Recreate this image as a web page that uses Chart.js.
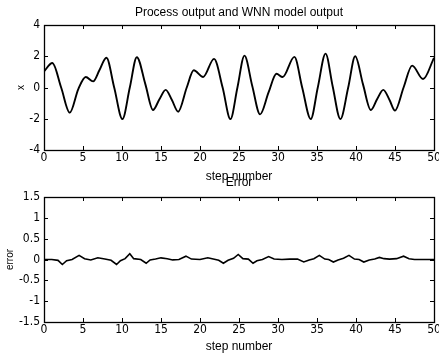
<!DOCTYPE html>
<html><head><meta charset="utf-8">
<script src="https://cdn.jsdelivr.net/npm/chart.js@4.4.0/dist/chart.umd.min.js"></script>
<style>
html,body{margin:0;padding:0;background:#fff;}
#wrap{position:relative;width:439px;height:355px;overflow:hidden;background:#fff;}
#c1{position:absolute;left:0;top:0;}
#c2{position:absolute;left:0;top:175px;}
</style></head><body>
<div id="wrap"><canvas id="c1" width="439" height="185" style="width:439px;height:185px"></canvas><canvas id="c2" width="439" height="180" style="width:439px;height:180px"></canvas></div>
<script>
// ---- data ----
const stepX = [0,1.07,2.2,3.3,4.4,5.35,6.3,7.1,8.0,9.0,10.05,11.0,11.9,13.0,13.97,14.8,15.6,16.4,17.2,18.3,19.2,20.4,21.8,22.9,23.9,24.8,25.7,26.7,27.7,28.8,29.8,30.6,32.1,33.1,34.2,35.1,36.1,37.0,38.0,39.0,39.9,40.9,41.9,42.7,43.5,44.3,45.0,46.1,47.2,48.6,50];
const processY = [1.03,1.57,0,-1.61,-0.1,0.67,0.39,1.1,1.9,0,-2.02,0,1.94,0.2,-1.44,-0.75,-0.15,-0.8,-1.55,0,1.1,0.67,1.83,0,-2.02,0,2.04,0.1,-1.72,-0.3,0.88,0.67,1.96,0,-2.02,0,2.17,0.1,-2.02,0,2.0,0.2,-1.44,-0.75,-0.15,-0.8,-1.48,0,1.4,0.54,1.9];
const errX = [0,1,1.8,2.35,2.9,3.6,4.5,5.2,6,6.9,7.8,8.6,9.3,9.8,10.4,11,11.5,12.4,13.1,13.6,14.3,15,15.8,16.5,17.3,18.2,18.9,20,21,21.7,22.4,23,23.6,24.3,24.9,25.5,26.2,26.8,27.3,28,28.8,29.5,30.5,31.5,32.5,33.3,34,34.6,35.3,36,36.5,37.1,37.7,38.4,39.1,39.8,40.4,41,41.7,42.4,43,43.6,44.3,45.2,46.1,46.8,47.5,50];
const errY = [0,0,-0.02,-0.12,-0.03,0,0.1,0.02,-0.01,0.04,0.01,-0.02,-0.12,-0.03,0.02,0.14,0.02,0,-0.09,-0.01,0.01,0.04,0.02,-0.01,0,0.08,0.01,0,0.04,0.01,-0.02,-0.09,-0.02,0.03,0.12,0.02,0.01,-0.09,-0.03,0,0.07,0.01,0,0.01,0.01,-0.06,-0.01,0.02,0.1,0.01,0,-0.06,-0.01,0.03,0.1,0.01,0,-0.06,-0.01,0.01,0.05,0.02,0.01,0.02,0.08,0.02,0,0];
const xTickVals = [0,5,10,15,20,25,30,35,40,45,50];
const topYTickVals = [-4,-2,0,2,4];
const errYTickVals = [-1.5,-1,-0.5,0,0.5,1,1.5];
const topTitle = 'Process output and WNN model output';
const errTitle = 'Error';
const xLabel = 'step number';
const topYLabel = 'x';
const errYLabel = 'error';

const tickFont = {family:'"Liberation Sans Narrow","DejaVu Sans Condensed","Liberation Sans",Arial,sans-serif', size:12};
const textFont = {family:'"Liberation Sans",Arial,sans-serif', size:12, weight:'normal'};

const boxTicks = {
  id:'boxTicks',
  afterDatasetsDraw(chart){
    const {ctx, chartArea:a, scales} = chart;
    const x = scales.x, y = scales.y;
    ctx.save();
    ctx.strokeStyle = '#000';
    ctx.lineWidth = 1;
    const L = 4;
    ctx.beginPath();
    x.ticks.forEach(t=>{
      const px = Math.round(x.getPixelForValue(t.value)) + 0.5;
      ctx.moveTo(px, a.bottom); ctx.lineTo(px, a.bottom - L);
      ctx.moveTo(px, a.top); ctx.lineTo(px, a.top + L);
    });
    y.ticks.forEach(t=>{
      const py = Math.round(y.getPixelForValue(t.value)) + 0.5;
      ctx.moveTo(a.left, py); ctx.lineTo(a.left + L, py);
      ctx.moveTo(a.right, py); ctx.lineTo(a.right - L, py);
    });
    ctx.stroke();
    ctx.lineWidth = 1.3;
    ctx.strokeRect(Math.round(a.left)+0.5, Math.round(a.top)+0.5, Math.round(a.right-a.left), Math.round(a.bottom-a.top));
    ctx.restore();
  }
};

function makeChart(id, xs, ys, yTicks, yMin, yMax, title, titlePad, yLabel, yLabelPad, xAxisH, xTitlePadB, lineW, smooth){
  const pts = xs.map((v,i)=>({x:v, y:ys[i]}));
  return new Chart(document.getElementById(id), {
    type:'line',
    data:{datasets:[{data:pts, borderColor:'#000', borderWidth:lineW, pointRadius:0, fill:false,
      cubicInterpolationMode: smooth ? 'monotone' : 'default', tension:0}]},
    options:{
      responsive:false, animation:false, devicePixelRatio:1,
      layout:{padding:{left:0,right:5,top:0,bottom:0}},
      plugins:{
        legend:{display:false}, tooltip:{enabled:false},
        title:{display:true, text:title, color:'#000', font:textFont, fullSize:false, padding:titlePad}
      },
      scales:{
        x:{type:'linear', min:0, max:50,
          afterBuildTicks:s=>{s.ticks = xTickVals.map(v=>({value:v}));},
          afterFit:s=>{s.height = xAxisH; s.paddingLeft = 0; s.paddingRight = 0;},
          grid:{display:false, drawTicks:false},
          border:{display:false},
          ticks:{color:'#000', font:tickFont, padding:1, maxRotation:0, autoSkip:false, callback:v=>String(v)},
          title:{display:true, text:xLabel, color:'#000', font:textFont, padding:{top:0,bottom:xTitlePadB}}
        },
        y:{type:'linear', min:yMin, max:yMax,
          afterBuildTicks:s=>{s.ticks = yTicks.map(v=>({value:v}));},
          afterFit:s=>{s.width = 44; s.paddingTop = 0; s.paddingBottom = 0;},
          grid:{display:false, drawTicks:false},
          border:{display:false},
          ticks:{color:'#000', font:tickFont, padding:4, autoSkip:false, callback:v=>String(v)},
          title:{display:true, text:yLabel, color:'#000', font:{family:textFont.family, size:10, weight:'normal'}, padding:{top:yLabelPad,bottom:0}}
        }
      }
    },
    plugins:[boxTicks]
  });
}

makeChart('c1', stepX, processY, topYTickVals, -4, 4, topTitle, {top:5,bottom:5.6}, topYLabel, 15, 35, 1.3, 1.9, true);
makeChart('c2', errX, errY, errYTickVals, -1.5, 1.5, errTitle, {top:0.8,bottom:6.8}, errYLabel, 4, 33, 1.0, 1.6, false);
</script>
</body></html>
